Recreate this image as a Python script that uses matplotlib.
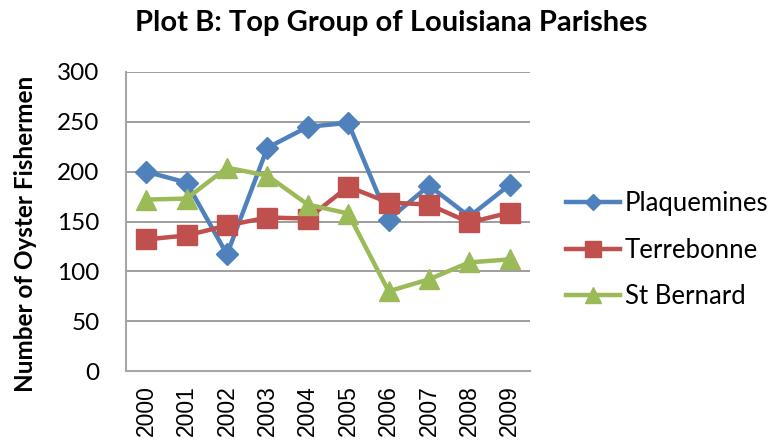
import matplotlib.pyplot as plt

# data
years = ['2000', '2001', '2002', '2003', '2004', '2005', '2006', '2007', '2008', '2009']
plaquemines = [200, 189, 117, 224, 245, 249, 152, 186, 155, 187]
terrebonne = [132, 136, 146, 154, 153, 185, 169, 167, 149, 159]
st_bernard = [172, 173, 204, 196, 167, 158, 80, 92, 109, 112]

fig = plt.figure(figsize=(7.82, 4.47), dpi=100)
ax = fig.add_axes([126 / 782, 1 - 371 / 447, 404 / 782, 299 / 447])

x = range(len(years))
ax.plot(x, plaquemines, color='#4F81BD', lw=3.2, marker='D', ms=11, label='Plaquemines')
ax.plot(x, terrebonne, color='#C0504D', lw=3.2, marker='s', ms=15, label='Terrebonne')
ax.plot(x, st_bernard, color='#9BBB59', lw=3.2, marker='^', ms=15, label='St Bernard')

ax.set_xlim(-0.5, len(years) - 0.5)
ax.set_ylim(0, 300)
ax.set_yticks(range(0, 301, 50))
ax.set_xticks(list(x))
ax.set_xticklabels(years, rotation=90, fontsize=16.5, family='Liberation Sans')
for lab in ax.get_yticklabels():
    lab.set_fontsize(17.5)
    lab.set_family('Lato')
ax.tick_params(length=0, width=0)
ax.tick_params(axis='y', pad=19)
ax.tick_params(axis='x', pad=10)

ax.grid(axis='y', color='#8C8C8C', lw=1.2)
ax.set_axisbelow(True)
for side in ['top', 'right']:
    ax.spines[side].set_visible(False)
for side in ['left', 'bottom']:
    ax.spines[side].set_color('#A6A6A6')
    ax.spines[side].set_linewidth(1.5)

ax.set_ylabel('Number of Oyster Fishermen', fontsize=17.5, fontweight='bold', family='Lato')
ax.yaxis.set_label_coords((37 - 126) / 404, 0.46)

fig.suptitle('Plot B: Top Group of Louisiana Parishes', x=0.5, y=1 - 23 / 447, va='center',
             fontsize=21, fontweight='bold', family='Lato')

ax.legend(loc='center left', bbox_to_anchor=(566 / 782, 1 - 250 / 447), bbox_transform=fig.transFigure,
          frameon=False, prop={'family': 'Lato', 'size': 18.5}, labelspacing=0.83,
          borderpad=0, borderaxespad=0,
          handlelength=2.1, handletextpad=0.2, markerscale=0.75)

fig.savefig('out.png', dpi=100)
